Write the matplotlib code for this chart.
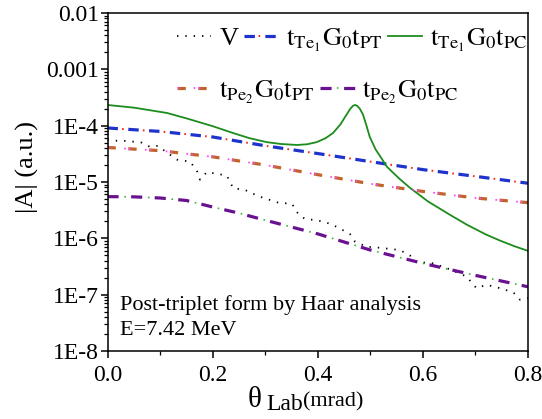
import matplotlib
matplotlib.use('Agg')
import matplotlib.pyplot as plt
from matplotlib.legend_handler import HandlerTuple

plt.rcParams['font.family'] = ['Liberation Serif', 'DejaVu Serif']
plt.rcParams['mathtext.fontset'] = 'stix'
plt.rcParams['lines.scale_dashes'] = False

# data
x9 = [0.0, 0.1, 0.2, 0.3, 0.4, 0.5, 0.6, 0.7, 0.8]
te1_pt = [9.1e-5, 7.9e-5, 6.3e-5, 4.4e-5, 3.2e-5, 2.3e-5, 1.66e-5, 1.26e-5, 9.5e-6]
pe2_pt = [4.1e-5, 3.6e-5, 2.8e-5, 2.0e-5, 1.35e-5, 9.3e-6, 6.8e-6, 5.2e-6, 4.3e-6]

pe2_pc_x = [0.0, 0.05, 0.1, 0.15, 0.2, 0.25, 0.3, 0.4, 0.5, 0.6, 0.7, 0.8]
pe2_pc = [5.5e-6, 5.45e-6, 5.2e-6, 4.7e-6, 3.6e-6, 2.8e-6, 2.1e-6, 1.2e-6,
          6.2e-7, 3.6e-7, 2.2e-7, 1.38e-7]

te1_pc_x = [0.0, 0.05, 0.09, 0.113, 0.15, 0.2, 0.239, 0.27, 0.303, 0.33,
            0.361, 0.38, 0.398, 0.415, 0.429, 0.443, 0.455, 0.462, 0.467,
            0.471, 0.475, 0.480, 0.486, 0.492, 0.499, 0.51, 0.532, 0.555,
            0.576, 0.61, 0.652, 0.684, 0.72, 0.747, 0.775, 0.8]
te1_pc = [2.33e-4, 2.09e-4, 1.82e-4, 1.68e-4, 1.35e-4, 9.8e-5, 7.4e-5, 6.0e-5,
          5.1e-5, 4.73e-5, 4.54e-5, 4.68e-5, 5.1e-5, 6.0e-5, 7.4e-5, 1.05e-4,
          1.58e-4, 2.0e-4, 2.25e-4, 2.33e-4, 2.25e-4, 2.0e-4, 1.58e-4, 1.05e-4,
          6.3e-5, 3.8e-5, 1.85e-5, 1.15e-5, 7.8e-6, 4.5e-6, 2.6e-6, 1.74e-6,
          1.17e-6, 9.1e-7, 7.2e-7, 6.0e-7]

v_x = [0.0, 0.014, 0.03, 0.049, 0.065, 0.081, 0.096, 0.11, 0.132, 0.157,
       0.170, 0.176, 0.189, 0.208, 0.227, 0.239, 0.262, 0.287, 0.303, 0.325,
       0.351, 0.363, 0.376, 0.398, 0.417, 0.436, 0.461, 0.471, 0.493, 0.518,
       0.556, 0.575, 0.588, 0.620, 0.652, 0.683, 0.702, 0.721, 0.747, 0.772,
       0.785, 0.8]
v_y = [5.6e-5, 5.4e-5, 5.4e-5, 5.2e-5, 5.0e-5, 4.2e-5, 4.4e-5, 3.5e-5, 2.5e-5,
       2.3e-5, 1.6e-5, 1.1e-5, 1.5e-5, 1.4e-5, 1.3e-5, 7.8e-6, 7.2e-6, 5.6e-6,
       5.0e-6, 4.3e-6, 4.1e-6, 2.7e-6, 2.2e-6, 2.1e-6, 1.9e-6, 1.6e-6, 1.2e-6,
       8.7e-7, 7.1e-7, 6.8e-7, 6.2e-7, 5.0e-7, 3.8e-7, 3.6e-7, 2.8e-7, 2.1e-7,
       1.3e-7, 1.5e-7, 1.3e-7, 1.1e-7, 8.1e-8, 8.7e-8]

yticks = [1e-2, 1e-3, 1e-4, 1e-5, 1e-6, 1e-7, 1e-8]
ytick_labels = ['0.01', '0.001', '1E-4', '1E-5', '1E-6', '1E-7', '1E-8']
xticks = [0.0, 0.2, 0.4, 0.6, 0.8]

W, H = 542, 419
fig = plt.figure(figsize=(W / 100, H / 100), dpi=100)
ax = fig.add_axes([107.5 / W, 1 - 351 / H, 420.5 / W, 338 / H])

lv, = ax.plot(v_x, v_y, color='black', lw=1.3, linestyle=(0, (1, 5)))
lb, = ax.plot(x9, te1_pt, color='#1f33cc', lw=2.3, linestyle=(0, (7.5, 7.5)))
lbr, = ax.plot(x9, te1_pt, color='#ff2020', lw=1.4, linestyle=(4.5, (1.2, 13.8)))
lg, = ax.plot(te1_pc_x, te1_pc, color='#1c8c1c', lw=1.3)
lo, = ax.plot(x9, pe2_pt, color='#c0642a', lw=2.3, linestyle=(0, (6, 9)))
lom, = ax.plot(x9, pe2_pt, color='#ff44ff', lw=1.3,
               linestyle=(3.0, (1.2, 2.3, 1.2, 10.3)))
lp, = ax.plot(pe2_pc_x, pe2_pc, color='#6a1190', lw=2.3, linestyle=(0, (8, 9)))
lpg, = ax.plot(pe2_pc_x, pe2_pc, color='#44b044', lw=1.2,
               linestyle=(4.9, (1.2, 15.8)))

ax.set_yscale('log')
ax.set_xlim(0, 0.8)
ax.set_ylim(1e-8, 1e-2)
ax.set_yticks(yticks)
ax.set_yticklabels(ytick_labels)
ax.set_xticks(xticks)
ax.set_xticklabels(['0.0', '0.2', '0.4', '0.6', '0.8'])
ax.set_xticks([0.1, 0.3, 0.5, 0.7], minor=True)
ax.tick_params(which='major', direction='out', length=5, width=1.1,
               labelsize=17, top=False, right=False)
ax.tick_params(axis='x', which='major', pad=5)
ax.tick_params(axis='y', which='major', pad=1)
ax.tick_params(which='minor', direction='out', length=3, width=0.9,
               top=False, right=False)
ax.tick_params(axis='y', which='minor', labelleft=False)
for s in ax.spines.values():
    s.set_linewidth(1.1)

# legends (two rows)
leg1 = ax.legend([lv, (lb, lbr), lg],
                 ['V', r'$\mathrm{t_{Te_1}G_0t_{PT}}$', r'$\mathrm{t_{Te_1}G_0t_{PC}}$'],
                 handler_map={tuple: HandlerTuple(ndivide=1)},
                 loc='center left', bbox_to_anchor=(177 / W, 1 - 40 / H),
                 bbox_transform=fig.transFigure, ncol=3, frameon=False,
                 fontsize=19, borderpad=0, borderaxespad=0, handlelength=1.3,
                 handletextpad=0.3, columnspacing=0.2)
ax.add_artist(leg1)
ax.legend([(lo, lom), (lp, lpg)],
          [r'$\mathrm{t_{Pe_2}G_0t_{PT}}$', r'$\mathrm{t_{Pe_2}G_0t_{PC}}$'],
          handler_map={tuple: HandlerTuple(ndivide=1)},
          loc='center left', bbox_to_anchor=(177 / W, 1 - 92 / H),
          bbox_transform=fig.transFigure, ncol=2, frameon=False,
          fontsize=19, borderpad=0, borderaxespad=0, handlelength=1.3,
          handletextpad=0.3, columnspacing=0.2)

ax.text(0.03, 0.121, 'Post-triplet form by Haar analysis', transform=ax.transAxes,
        fontsize=16, va='baseline', ha='left')
ax.text(0.03, 0.047, 'E=7.42 MeV', transform=ax.transAxes,
        fontsize=16, va='baseline', ha='left')

# axis labels
fig.text(27 / W, 1 - 167 / H, '|A| (a.u.)', rotation=90, fontsize=19,
         ha='center', va='center')
fig.text(248 / W, 1 - 407 / H, '\u03b8', fontsize=21, ha='left', va='baseline')
fig.text(266 / W, 1 - 410 / H, 'Lab', fontsize=17, ha='left', va='baseline')
fig.text(303 / W, 1 - 406 / H, '(mrad)', fontsize=16, ha='left', va='baseline')

fig.savefig('out.png', dpi=100)
